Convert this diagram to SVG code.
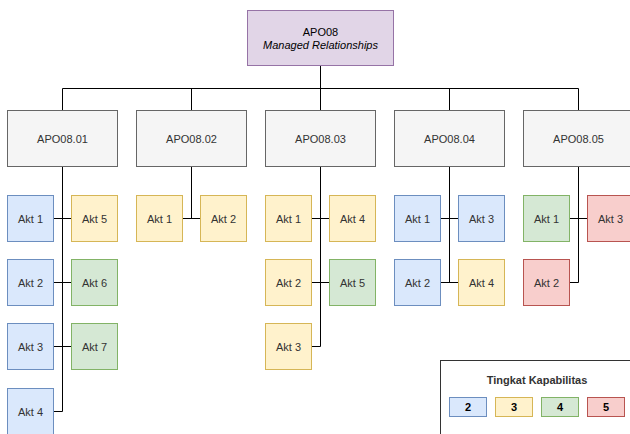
<svg xmlns="http://www.w3.org/2000/svg" width="630" height="434" viewBox="0 0 630 434">
<style>
text{font-family:"Liberation Sans",Arial,sans-serif;font-size:11px;fill:#333;text-anchor:middle;dominant-baseline:central}
.b{fill:#dae8fc;stroke:#6c8ebf}
.y{fill:#fff2cc;stroke:#d6b656}
.g{fill:#d5e8d4;stroke:#82b366}
.r{fill:#f8cecc;stroke:#b85450}
.p{fill:#e1d5e7;stroke:#9673a6}
.gr{fill:#f5f5f5;stroke:#666}
.e{fill:none;stroke:#000;stroke-width:1}
.bold{font-weight:bold}
</style>
<rect width="630" height="434" fill="#fff"/>
<g id="connectors">
<path class="e" d="M320.5 65.5V88.5M62.5 110.5V88.5H578.5V110.5M191.5 88.5V110.5M320.5 88.5V110.5M449.5 88.5V110.5"/>
<path class="e" d="M62.5 166.5V411.5H53.5M53.5 218.5H71.5M53.5 282.5H71.5M53.5 346.5H71.5"/>
<path class="e" d="M191.5 166.5V218.5M182.5 218.5H200.5"/>
<path class="e" d="M320.5 166.5V346.5H311.5M311.5 218.5H329.5M311.5 282.5H329.5"/>
<path class="e" d="M449.5 166.5V282.5M440.5 218.5H458.5M440.5 282.5H458.5"/>
<path class="e" d="M578.5 166.5V282.5H569.5M569.5 218.5H587.5"/>
</g>
<g id="apo08"><rect class="p" x="247.5" y="10.5" width="146" height="55"/><text x="320.5" y="32" style="fill:#000">APO08</text><text x="320.5" y="45" style="fill:#000;font-style:italic">Managed Relationships</text></g>
<g id="apo0801"><rect class="gr" x="7.5" y="110.5" width="110" height="56"/><text x="62.5" y="139">APO08.01</text></g>
<g id="apo0802"><rect class="gr" x="136.5" y="110.5" width="110" height="56"/><text x="191.5" y="139">APO08.02</text></g>
<g id="apo0803"><rect class="gr" x="265.5" y="110.5" width="110" height="56"/><text x="320.5" y="139">APO08.03</text></g>
<g id="apo0804"><rect class="gr" x="394.5" y="110.5" width="110" height="56"/><text x="449.5" y="139">APO08.04</text></g>
<g id="apo0805"><rect class="gr" x="523.5" y="110.5" width="110" height="56"/><text x="578.5" y="139">APO08.05</text></g>

<g id="a1-1"><rect class="b" x="7.5" y="195.5" width="46" height="46"/><text x="30.5" y="218.5">Akt 1</text></g>
<g id="a1-2"><rect class="b" x="7.5" y="259.5" width="46" height="46"/><text x="30.5" y="282.5">Akt 2</text></g>
<g id="a1-3"><rect class="b" x="7.5" y="323.5" width="46" height="46"/><text x="30.5" y="346.5">Akt 3</text></g>
<g id="a1-4"><rect class="b" x="7.5" y="388.5" width="46" height="46"/><text x="30.5" y="411.5">Akt 4</text></g>
<g id="a1-5"><rect class="y" x="71.5" y="195.5" width="46" height="46"/><text x="94.5" y="218.5">Akt 5</text></g>
<g id="a1-6"><rect class="g" x="71.5" y="259.5" width="46" height="46"/><text x="94.5" y="282.5">Akt 6</text></g>
<g id="a1-7"><rect class="g" x="71.5" y="323.5" width="46" height="46"/><text x="94.5" y="346.5">Akt 7</text></g>

<g id="a2-1"><rect class="y" x="136.5" y="195.5" width="46" height="46"/><text x="159.5" y="218.5">Akt 1</text></g>
<g id="a2-2"><rect class="y" x="200.5" y="195.5" width="46" height="46"/><text x="223.5" y="218.5">Akt 2</text></g>

<g id="a3-1"><rect class="y" x="265.5" y="195.5" width="46" height="46"/><text x="288.5" y="218.5">Akt 1</text></g>
<g id="a3-2"><rect class="y" x="265.5" y="259.5" width="46" height="46"/><text x="288.5" y="282.5">Akt 2</text></g>
<g id="a3-3"><rect class="y" x="265.5" y="323.5" width="46" height="46"/><text x="288.5" y="346.5">Akt 3</text></g>
<g id="a3-4"><rect class="y" x="329.5" y="195.5" width="46" height="46"/><text x="352.5" y="218.5">Akt 4</text></g>
<g id="a3-5"><rect class="g" x="329.5" y="259.5" width="46" height="46"/><text x="352.5" y="282.5">Akt 5</text></g>

<g id="a4-1"><rect class="b" x="394.5" y="195.5" width="46" height="46"/><text x="417.5" y="218.5">Akt 1</text></g>
<g id="a4-2"><rect class="b" x="394.5" y="259.5" width="46" height="46"/><text x="417.5" y="282.5">Akt 2</text></g>
<g id="a4-3"><rect class="b" x="458.5" y="195.5" width="46" height="46"/><text x="481.5" y="218.5">Akt 3</text></g>
<g id="a4-4"><rect class="y" x="458.5" y="259.5" width="46" height="46"/><text x="481.5" y="282.5">Akt 4</text></g>

<g id="a5-1"><rect class="g" x="523.5" y="195.5" width="46" height="46"/><text x="546.5" y="218.5">Akt 1</text></g>
<g id="a5-2"><rect class="r" x="523.5" y="259.5" width="46" height="46"/><text x="546.5" y="282.5">Akt 2</text></g>
<g id="a5-3"><rect class="r" x="587.5" y="195.5" width="46" height="46"/><text x="610.5" y="218.5">Akt 3</text></g>

<g id="legend">
<rect x="440.5" y="360.5" width="193" height="80" fill="#fff" stroke="#333"/>
<text class="bold" x="537" y="380">Tingkat Kapabilitas</text>
<rect class="b" x="449.5" y="397.5" width="37" height="19"/><text class="bold" x="468" y="407" style="fill:#000">2</text>
<rect class="y" x="495.5" y="397.5" width="37" height="19"/><text class="bold" x="514" y="407" style="fill:#000">3</text>
<rect class="g" x="541.5" y="397.5" width="37" height="19"/><text class="bold" x="560" y="407" style="fill:#000">4</text>
<rect class="r" x="587.5" y="397.5" width="37" height="19"/><text class="bold" x="606" y="407" style="fill:#000">5</text>
</g>
</svg>
